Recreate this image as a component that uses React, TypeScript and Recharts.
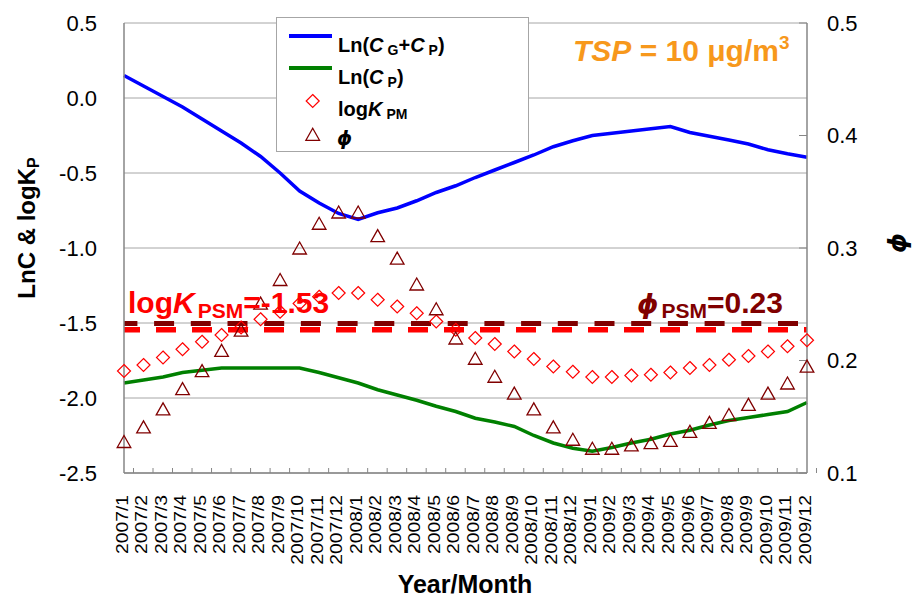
import React from 'react';
import { ComposedChart, Line, XAxis, YAxis, CartesianGrid, ReferenceLine } from 'recharts';

const months = [
  '2007/1', '2007/2', '2007/3', '2007/4', '2007/5', '2007/6', '2007/7', '2007/8', '2007/9', '2007/10', '2007/11', '2007/12',
  '2008/1', '2008/2', '2008/3', '2008/4', '2008/5', '2008/6', '2008/7', '2008/8', '2008/9', '2008/10', '2008/11', '2008/12',
  '2009/1', '2009/2', '2009/3', '2009/4', '2009/5', '2009/6', '2009/7', '2009/8', '2009/9', '2009/10', '2009/11', '2009/12',
];

// Ln(CG+CP)  (left axis)
const lnCgCp = [
  0.15, 0.08, 0.01, -0.06, -0.14, -0.22, -0.30, -0.39, -0.50, -0.62, -0.70, -0.77,
  -0.81, -0.765, -0.733, -0.685, -0.63, -0.585, -0.53, -0.48, -0.43, -0.38, -0.325, -0.285,
  -0.25, -0.235, -0.22, -0.205, -0.19, -0.23, -0.255, -0.28, -0.307, -0.345, -0.372, -0.395,
];

// Ln(CP)  (left axis)
const lnCp = [
  -1.90, -1.88, -1.86, -1.83, -1.815, -1.80, -1.80, -1.80, -1.80, -1.80, -1.83, -1.865,
  -1.90, -1.945, -1.98, -2.015, -2.055, -2.09, -2.135, -2.16, -2.19, -2.25, -2.30, -2.335,
  -2.355, -2.33, -2.30, -2.275, -2.24, -2.215, -2.18, -2.15, -2.13, -2.11, -2.09, -2.03,
];

// logK_PM  (left axis)
const logKpm = [
  -1.82, -1.78, -1.73, -1.675, -1.625, -1.58, -1.53, -1.475, -1.425, -1.37, -1.325, -1.30,
  -1.30, -1.345, -1.39, -1.435, -1.49, -1.545, -1.60, -1.64, -1.69, -1.74, -1.79, -1.825,
  -1.86, -1.86, -1.85, -1.845, -1.83, -1.80, -1.78, -1.745, -1.72, -1.69, -1.655, -1.615,
];

// phi  (right axis)
const phi = [
  0.128, 0.141, 0.157, 0.175, 0.191, 0.209, 0.227, 0.251, 0.272, 0.300, 0.322, 0.332,
  0.332, 0.311, 0.291, 0.268, 0.246, 0.220, 0.202, 0.186, 0.171, 0.157, 0.141, 0.130,
  0.122, 0.122, 0.125, 0.127, 0.129, 0.137, 0.145, 0.152, 0.161, 0.171, 0.180, 0.195,
];

const logKpsm = -1.545;
const phiPsm = 0.233;

const leftTicks = [-2.5, -2.0, -1.5, -1.0, -0.5, 0.0, 0.5];
const rightTicks = [0.1, 0.2, 0.3, 0.4, 0.5];

const data = months.map((m, i) => ({
  month: m,
  total: lnCgCp[i],
  particle: lnCp[i],
  logK: logKpm[i],
  phi: phi[i],
}));

const FONT = '"Liberation Sans", Arial, Helvetica, sans-serif';
const PHI_FONT = '"DejaVu Sans", "Liberation Sans", sans-serif';
const AXIS_GRAY = '#868686';
const BAND = 683 / 36;

const XTick = (props: any) => {
  const { x, y, payload } = props;
  const label: string = String(payload.value);
  let em = 0;
  for (const ch of label) em += ch === '/' ? 0.278 : 0.556;
  const ty = y + 22;
  return (
    <g>
      <line x1={x + BAND / 2} x2={x + BAND / 2} y1={y} y2={y - 5} stroke={AXIS_GRAY} strokeWidth={1} />
      <text
        x={x}
        y={ty}
        transform={`rotate(-90 ${x} ${ty})`}
        textAnchor="end"
        dy={3.6}
        fontSize={17}
        fontFamily={FONT}
        fill="#000"
        textLength={em * 19.3}
        lengthAdjust="spacingAndGlyphs"
      >
        {label}
      </text>
    </g>
  );
};

const Diamond = (p: any) => {
  const { cx, cy, index } = p;
  if (cx == null || cy == null) return <g key={`d${index}`} />;
  const r = 6.5;
  return (
    <path
      key={`d${index}`}
      d={`M${cx},${cy - r} L${cx + r},${cy} L${cx},${cy + r} L${cx - r},${cy} Z`}
      fill="none"
      stroke="#ff0000"
      strokeWidth={1.2}
    />
  );
};

const Triangle = (p: any) => {
  const { cx, cy, index } = p;
  if (cx == null || cy == null) return <g key={`t${index}`} />;
  const w = 6.8;
  const h = 6;
  return (
    <path
      key={`t${index}`}
      d={`M${cx},${cy - h} L${cx + w},${cy + h} L${cx - w},${cy + h} Z`}
      fill="none"
      stroke="#800000"
      strokeWidth={1.3}
    />
  );
};

const Overlay = () => (
  <svg
    width={913}
    height={601}
    style={{ position: 'absolute', left: 0, top: 0, pointerEvents: 'none' }}
    fontFamily={FONT}
  >
    {/* legend */}
    <rect x={276.5} y={17.5} width={252} height={134} fill="#fff" stroke="#a6a6a6" strokeWidth={1} />
    <line x1={289} x2={332} y1={36} y2={36} stroke="#0000ff" strokeWidth={4} />
    <text x={338} y={52} fontSize={20} fontWeight="bold" fill="#000">
      Ln(<tspan fontStyle="italic">C</tspan>
      <tspan fontSize={14} dx={4} dy={3}>G</tspan>
      <tspan dy={-3}>+</tspan>
      <tspan fontStyle="italic">C</tspan>
      <tspan fontSize={14} dx={4} dy={3}>P</tspan>
      <tspan dy={-3}>)</tspan>
    </text>
    <line x1={289} x2={332} y1={68} y2={68} stroke="#008000" strokeWidth={4} />
    <text x={338} y={84} fontSize={20} fontWeight="bold" fill="#000">
      Ln(<tspan fontStyle="italic">C</tspan>
      <tspan fontSize={14} dx={4} dy={3}>P</tspan>
      <tspan dy={-3}>)</tspan>
    </text>
    <path d="M312.7,94.5 L319.2,101 L312.7,107.5 L306.2,101 Z" fill="none" stroke="#ff0000" strokeWidth={1.2} />
    <text x={338} y={116} fontSize={20} fontWeight="bold" fill="#000">
      log<tspan fontStyle="italic">K</tspan>
      <tspan fontSize={14} dx={4} dy={3}>PM</tspan>
    </text>
    <path d="M312.7,128.3 L319.5,140.3 L305.9,140.3 Z" fill="none" stroke="#800000" strokeWidth={1.3} />
    <text x={337} y={145} fontSize={19} fontWeight="bold" fontStyle="italic" fontFamily={PHI_FONT} fill="#000">ϕ</text>

    {/* TSP annotation */}
    <text x={573} y={61} fontSize={30} fontWeight="bold" fill="#F7981C">
      <tspan fontStyle="italic">TSP</tspan> = 10 μg/m<tspan fontSize={19} dy={-12}>3</tspan>
    </text>

    {/* PSM labels */}
    <text x={128} y={313} fontSize={30} fontWeight="bold" fill="#ff0000">
      log<tspan fontStyle="italic">K</tspan>
      <tspan fontSize={21} dx={3} dy={5}>PSM</tspan>
      <tspan dy={-5}>=-1.53</tspan>
    </text>
    <text x={637} y={313} fontSize={30} fontWeight="bold" fill="#800000">
      <tspan fontStyle="italic" fontFamily={PHI_FONT} fontSize={27}>ϕ</tspan>
      <tspan fontSize={21} dx={3} dy={5}>PSM</tspan>
      <tspan dy={-5}>=0.23</tspan>
    </text>

    {/* axis titles */}
    <text transform="translate(35,228) rotate(-90)" textAnchor="middle" fontSize={24} fontWeight="bold" fill="#000">
      LnC &amp; logK<tspan fontSize={16} dy={4}>P</tspan>
    </text>
    <text transform="translate(906,243) rotate(-90)" textAnchor="middle" fontSize={25} fontWeight="bold" fontStyle="italic" fontFamily={PHI_FONT} fill="#000">
      ϕ
    </text>
    <text x={465} y={593} textAnchor="middle" fontSize={25} fontWeight="bold" fill="#000">
      Year/Month
    </text>
  </svg>
);

export default function App() {
  return (
    <div style={{ position: 'absolute', left: 0, top: 0, width: 913, height: 601, background: '#fff' }}>
      <ComposedChart
        width={913}
        height={601}
        data={data}
        margin={{ top: 23, right: 0, bottom: 0, left: 0 }}
        style={{ fontFamily: FONT }}
      >
        <CartesianGrid yAxisId="left" vertical={false} stroke="#a6a6a6" strokeWidth={1} />
        <XAxis
          dataKey="month"
          interval={0}
          height={128}
          tickLine={false}
          tickSize={0}
          tickMargin={0}
          axisLine={{ stroke: AXIS_GRAY, strokeWidth: 1.5 }}
          tick={(p: any) => <XTick {...p} />}
        />
        <YAxis
          yAxisId="left"
          orientation="left"
          width={124}
          domain={[-2.5, 0.5]}
          ticks={leftTicks}
          allowDataOverflow
          tickFormatter={(v: number) => v.toFixed(1)}
          tickLine={false}
          tickSize={0}
          tickMargin={27}
          axisLine={{ stroke: AXIS_GRAY, strokeWidth: 1.5 }}
          tick={{ fontSize: 22, fill: '#000', fontFamily: FONT }}
        />
        <YAxis
          yAxisId="right"
          orientation="right"
          width={106}
          domain={[0.1, 0.5]}
          ticks={rightTicks}
          allowDataOverflow
          tickFormatter={(v: number) => v.toFixed(1)}
          tickLine={{ stroke: AXIS_GRAY }}
          tickSize={-8}
          tickMargin={28}
          axisLine={{ stroke: AXIS_GRAY, strokeWidth: 1.5 }}
          tick={{ fontSize: 22, fill: '#000', fontFamily: FONT, textAnchor: 'start' }}
        />
        <Line
          yAxisId="left"
          type="linear"
          dataKey="particle"
          stroke="#008000"
          strokeWidth={3.5}
          dot={false}
          activeDot={false}
          isAnimationActive={false}
        />
        <Line
          yAxisId="left"
          type="linear"
          dataKey="total"
          stroke="#0000ff"
          strokeWidth={3.5}
          dot={false}
          activeDot={false}
          isAnimationActive={false}
        />
        <Line
          yAxisId="left"
          type="linear"
          dataKey="logK"
          stroke="none"
          dot={Diamond}
          activeDot={false}
          isAnimationActive={false}
        />
        <Line
          yAxisId="right"
          type="linear"
          dataKey="phi"
          stroke="none"
          dot={Triangle}
          activeDot={false}
          isAnimationActive={false}
        />
        <ReferenceLine
          yAxisId="left"
          y={logKpsm}
          stroke="#ff0000"
          strokeWidth={5.5}
          strokeDasharray="20 16"
          strokeDashoffset={4}
        />
        <ReferenceLine
          yAxisId="right"
          y={phiPsm}
          stroke="#800000"
          strokeWidth={5}
          strokeDasharray="20 16.7"
          strokeDashoffset={27.7}
        />
      </ComposedChart>
      <Overlay />
    </div>
  );
}
